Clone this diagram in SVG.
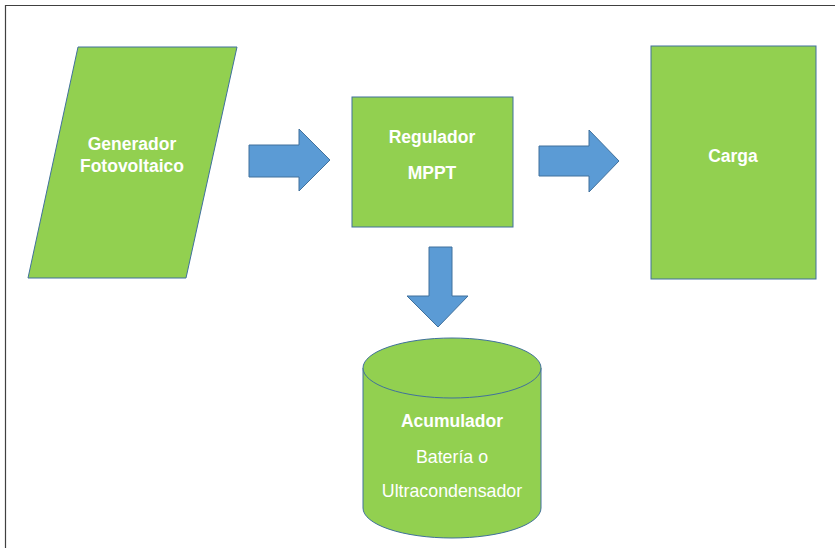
<svg xmlns="http://www.w3.org/2000/svg" width="835" height="548" viewBox="0 0 835 548">
<style>
.node{fill:#92D050;stroke:#41719C;stroke-width:1}
.arrow{fill:#5B9BD5;stroke:#41719C;stroke-width:1}
.b{font-family:"Liberation Sans",Arial,sans-serif;font-weight:bold;font-size:17.5px;fill:#FFFFFF;text-anchor:middle}
.r{font-family:"Liberation Sans",Arial,sans-serif;font-size:17.8px;fill:#FFFFFF;text-anchor:middle}
</style>
<rect x="0" y="0" width="835" height="548" fill="#FFFFFF"/>
<path d="M5.5 548 V5.5 H835" fill="none" stroke="#404040" stroke-width="1.2"/>
<g id="generador">
<polygon class="node" points="78,47 237,47 186,278 28,278"/>
<text class="b" x="132" y="150">Generador</text>
<text class="b" x="132" y="172">Fotovoltaico</text>
</g>
<g id="regulador">
<rect class="node" x="352" y="97" width="161" height="130"/>
<text class="b" x="432" y="143">Regulador</text>
<text class="b" x="432" y="179">MPPT</text>
</g>
<g id="carga">
<rect class="node" x="651" y="46" width="165" height="233"/>
<text class="b" x="733" y="162">Carga</text>
</g>
<g id="acumulador">
<path class="node" d="M363 368 V508 A89 30 0 0 0 541 508 V368 A89 30 0 0 0 363 368 Z"/>
<path class="node" d="M363 368 A89 30 0 0 0 541 368" fill="none"/>
<text class="b" x="452" y="427">Acumulador</text>
<text class="r" x="452" y="463">Batería o</text>
<text class="r" x="452" y="497">Ultracondensador</text>
</g>
<g id="connectors">
<polygon class="arrow" points="249,145 299,145 299,129 330,160 299,191 299,177 249,177"/>
<polygon class="arrow" points="539,146 589,146 589,130 619,161 589,192 589,176 539,176"/>
<polygon class="arrow" points="429,247 452,247 452,296 468,296 438,327 407,296 429,296"/>
</g>
</svg>
